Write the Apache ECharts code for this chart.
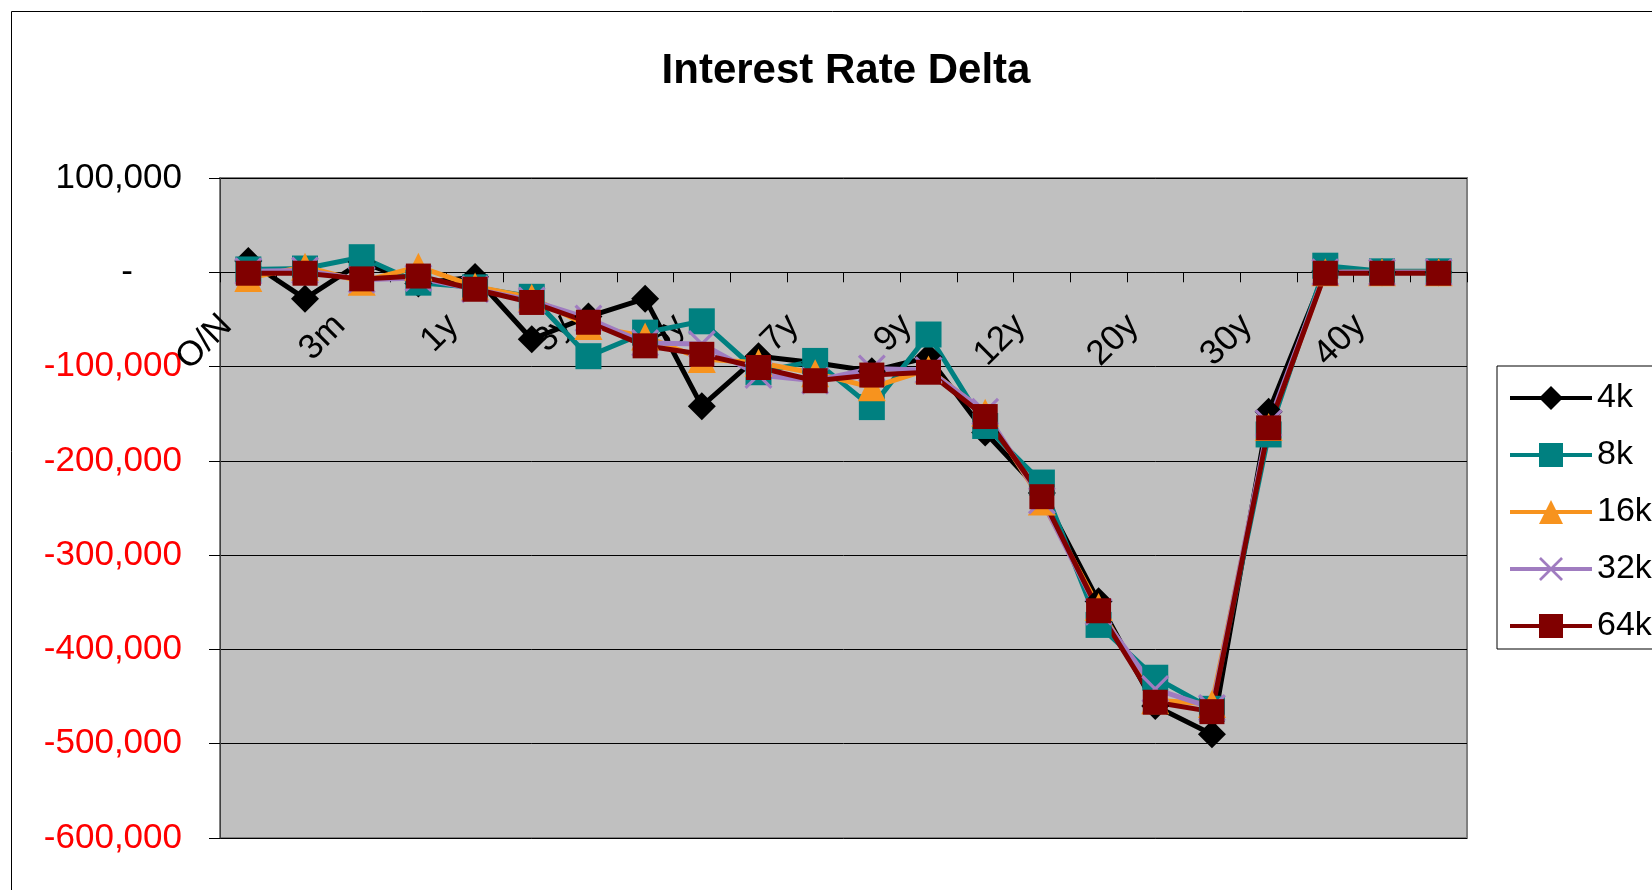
<!DOCTYPE html>
<html>
<head>
<meta charset="utf-8">
<title>Interest Rate Delta</title>
<script src="https://cdn.jsdelivr.net/npm/echarts@6/dist/echarts.min.js"></script>
<style>
  html, body { margin: 0; padding: 0; background: #ffffff; }
  #chart { width: 1652px; height: 890px; }
</style>
</head>
<body>
<div id="chart"></div>
<script>
// Tenor buckets along the curve
const tenors = ['O/N', '1m', '3m', '6m', '1y', '2y', '3y', '4y', '5y', '6y', '7y',
                '8y', '9y', '10y', '12y', '15y', '20y', '25y', '30y', '35y', '40y', '50y'];

// Delta per bucket for each simulation size
const delta4k  = [ 12000, -28000,  11000, -12000,  -5000, -71000, -47000, -28000, -142000,  -89000,  -96000,
                  -105000, -90000, -170000, -234000, -349000, -460000, -490000, -148000,   1000,      0,      0];
const delta8k  = [  3000,   4000,  16000, -11000, -16000, -26000, -89000, -64000,  -52000, -106000,  -94000,
                  -143000, -66000, -163000, -223000, -374000, -430000, -463000, -172000,   7000,   1000,   1000];
const delta16k = [ -6000,   6000, -10000,   6000, -15000, -27000, -57000, -68000,  -92000,  -96000, -107000,
                  -122000, -103000, -149000, -243000, -355000, -454000, -458000, -164000,      0,      0,      0];
const delta32k = [  1000,   2000,  -8000,  -6000, -18000, -30000, -49000, -75000,  -76000, -109000, -115000,
                  -102000, -104000, -148000, -242000, -360000, -442000, -462000, -160000,      0,      0,      0];
const delta64k = [ -1000,  -1000,  -7000,  -4000, -18000, -32000, -53000, -78000,  -87000, -101000, -115000,
                  -109000, -106000, -153000, -238000, -359000, -456000, -466000, -165000,  -1000,  -1000,  -1000];

const seriesNames = ['4k', '8k', '16k', '32k', '64k'];

// Value axis bounds and step
const yMin = -600000;
const yMax = 100000;
const yStep = 100000;

const FONT = '"Liberation Sans", Arial, Helvetica, sans-serif';
const GRID = { left: 220, right: 185, top: 178, bottom: 52 };
const CHART_H = 890;

// An "x" marker drawn as a filled outline so it can carry the series colour
const crossSymbol = 'path://M0,8 L8,0 L50,42 L92,0 L100,8 L58,50 L100,92 L92,100 L50,58 L8,100 L0,92 L42,50 Z';

function withCommas(n) {
  return String(Math.abs(n)).replace(/\B(?=(\d{3})+(?!\d))/g, ',');
}

function makeSeries(name, data, color, symbol, size) {
  return {
    name: name,
    type: 'line',
    data: data,
    color: color,
    symbol: symbol,
    symbolSize: size,
    showSymbol: true,
    showAllSymbol: true,
    lineStyle: { color: color, width: 5 },
    itemStyle: { color: color, borderWidth: 0 },
    emphasis: { disabled: true },
    z: 3
  };
}

const chart = echarts.init(document.getElementById('chart'), null, { renderer: 'canvas' });

chart.setOption({
  animation: false,
  backgroundColor: '#ffffff',
  textStyle: { fontFamily: FONT },
  title: {
    text: 'Interest Rate Delta',
    left: 841,
    top: 45,
    textAlign: 'center',
    textStyle: { fontFamily: FONT, fontSize: 42, fontWeight: 'bold', color: '#000000' }
  },
  graphic: [{
    type: 'rect',
    silent: true,
    z: -1,
    shape: { x: 11.5, y: 11.5, width: 2000, height: 2000 },
    style: { fill: 'none', stroke: '#000000', lineWidth: 1 }
  }],
  legend: {
    orient: 'vertical',
    left: 1497,
    top: 366,
    padding: [15, 40, 6, 11],
    itemWidth: 82,
    itemHeight: 30,
    itemGap: 23,
    borderColor: '#000000',
    borderWidth: 1,
    backgroundColor: '#ffffff',
    lineStyle: { width: 4 },
    textStyle: { fontFamily: FONT, fontSize: 34, color: '#000000', lineHeight: 34 },
    data: seriesNames
  },
  grid: {
    left: GRID.left,
    right: GRID.right,
    top: GRID.top,
    bottom: GRID.bottom,
    containLabel: false,
    outerBoundsMode: 'none',
    show: true,
    backgroundColor: '#C0C0C0',
    borderColor: '#808080',
    borderWidth: 2
  },
  xAxis: {
    type: 'category',
    data: tenors,
    boundaryGap: true,
    position: 'bottom',
    offset: 0,
    axisLine: { onZero: false, lineStyle: { color: '#000000', width: 1 } },
    axisTick: { show: true, interval: 0, length: 10, lineStyle: { color: '#000000', width: 1 } },
    axisLabel: {
      interval: 1,
      rotate: 45,
      margin: 26,
      padding: [0, 31, 0, 0],
      fontFamily: FONT,
      fontSize: 35,
      color: '#000000'
    },
    splitLine: { show: false }
  },
  yAxis: {
    type: 'value',
    min: yMin,
    max: yMax,
    interval: yStep,
    axisLine: { show: true, lineStyle: { color: '#404040', width: 1 } },
    axisTick: { show: true, length: 11, lineStyle: { color: '#000000', width: 1 } },
    axisLabel: {
      margin: 38,
      fontFamily: FONT,
      fontSize: 35,
      formatter: function (v) {
        if (v === 0) return '{z|-}';
        if (v < 0) return '{n|-' + withCommas(v) + '}';
        return '{p|' + withCommas(v) + '}';
      },
      rich: {
        z: { fontFamily: FONT, fontSize: 35, color: '#000000', padding: [0, 49, 0, 0] },
        n: { fontFamily: FONT, fontSize: 35, color: '#FF0000' },
        p: { fontFamily: FONT, fontSize: 35, color: '#000000' }
      }
    },
    splitLine: { show: true, lineStyle: { color: '#000000', width: 1 } }
  },
  series: [
    makeSeries('4k',  delta4k,  '#000000', 'diamond',  28),
    makeSeries('8k',  delta8k,  '#008080', 'rect',     26),
    makeSeries('16k', delta16k, '#F7931E', 'triangle', 28),
    makeSeries('32k', delta32k, '#A07CC0', crossSymbol, 28),
    makeSeries('64k', delta64k, '#800000', 'rect',     25)
  ]
});

// Lift the category axis (line, ticks and labels) onto the zero value line
const zeroY = chart.convertToPixel({ yAxisIndex: 0 }, 0);
const plotBottom = CHART_H - GRID.bottom;
chart.setOption({ xAxis: { offset: zeroY - plotBottom } });
</script>
</body>
</html>
